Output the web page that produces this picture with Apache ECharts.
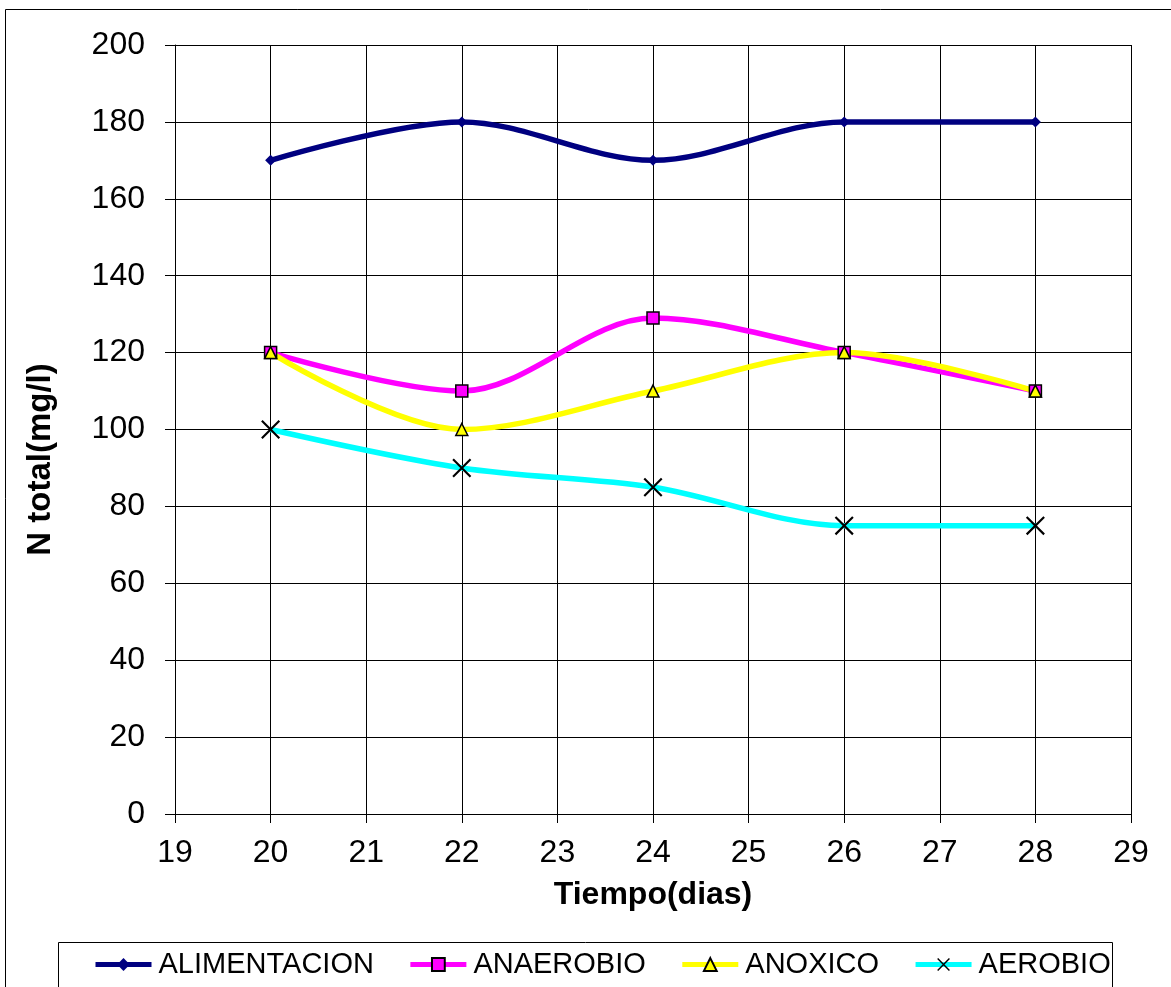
<!DOCTYPE html>
<html><head><meta charset="utf-8">
<script src="https://cdn.jsdelivr.net/npm/echarts@6/dist/echarts.min.js"></script>
<style>html,body{margin:0;padding:0;background:#fff}#c{width:1171px;height:987px}</style>
</head><body><div id="c"></div>
<script>
const days = [20, 22, 24, 26, 28];
const alimentacion = [170, 180, 170, 180, 180];
const anaerobio = [120, 110, 129, 120, 110];
const anoxico = [120, 100, 110, 120, 110];
const aerobio = [100, 90, 85, 75, 75];
const seriesNames = ['ALIMENTACION', 'ANAEROBIO', 'ANOXICO', 'AEROBIO'];
const xTitle = 'Tiempo(dias)';
const yTitle = 'N total(mg/l)';

const pair = arr => days.map((d, i) => [d, arr[i]]);
const font = 'Liberation Sans, Arial, sans-serif';
const xSym = 'path://M0,0.8L0.8,0L10,9.2L9.2,10Z M9.2,0L10,0.8L0.8,10L0,9.2Z';

const chart = echarts.init(document.getElementById('c'), null, {renderer: 'canvas'});
function mk(name, data, color, symbol, size, fill, border) {
  return {
    name, type: 'line', data: pair(data), smooth: 0.33,
    symbol, symbolSize: size, showSymbol: true,
    lineStyle: {color, width: 5.5},
    itemStyle: {color: fill, borderColor: border || fill, borderWidth: border ? 1.5 : 0},
    emphasis: {disabled: true}, z: 3
  };
}
chart.setOption({
  animation: false,
  backgroundColor: '#fff',
  grid: {left: 175, top: 45, width: 956, height: 769, containLabel: false},
  xAxis: {
    type: 'value', min: 19, max: 29, interval: 1,
    name: xTitle, nameLocation: 'middle', nameGap: 65,
    nameTextStyle: {fontFamily: font, fontSize: 32, fontWeight: 'bold', color: '#000'},
    axisLine: {show: true, lineStyle: {color: '#000', width: 1}},
    axisTick: {show: true, length: 9, lineStyle: {color: '#000'}},
    axisLabel: {fontFamily: font, fontSize: 32, color: '#000', margin: 23},
    splitLine: {show: true, lineStyle: {color: '#000', width: 1}}
  },
  yAxis: {
    type: 'value', min: 0, max: 200, interval: 20,
    name: yTitle, nameLocation: 'middle', nameGap: 118, nameRotate: 90,
    nameTextStyle: {fontFamily: font, fontSize: 33, fontWeight: 'bold', color: '#000', padding: [0, 60, 0, 0]},
    axisLine: {show: true, lineStyle: {color: '#000', width: 1}},
    axisTick: {show: true, length: 10, lineStyle: {color: '#000'}},
    axisLabel: {fontFamily: font, fontSize: 32, color: '#000', margin: 30},
    splitLine: {show: true, lineStyle: {color: '#000', width: 1}}
  },
  legend: {
    left: 88, top: 945, itemWidth: 56, itemHeight: 16, itemGap: 34,
    lineStyle: {width: 5},
    textStyle: {fontFamily: font, fontSize: 29, color: '#000', padding: [0, 0, 0, 2]},
    data: seriesNames
  },
  graphic: [
    {type: 'rect', shape: {x: 5.5, y: 9.5, width: 1170, height: 990}, style: {fill: null, stroke: '#000', lineWidth: 1}, z: -1, silent: true},
    {type: 'rect', shape: {x: 58.5, y: 942.5, width: 1054, height: 50}, style: {fill: null, stroke: '#000', lineWidth: 1}, z: 10, silent: true}
  ],
  series: [
    mk(seriesNames[0], alimentacion, '#000080', 'diamond', 11, '#000080', null),
    mk(seriesNames[1], anaerobio, '#FF00FF', 'rect', 12, '#FF00FF', '#000'),
    mk(seriesNames[2], anoxico, '#FFFF00', 'triangle', 12, '#FFFF00', '#000'),
    mk(seriesNames[3], aerobio, '#00FFFF', xSym, 19, '#000', null)
  ]
});
</script></body></html>
